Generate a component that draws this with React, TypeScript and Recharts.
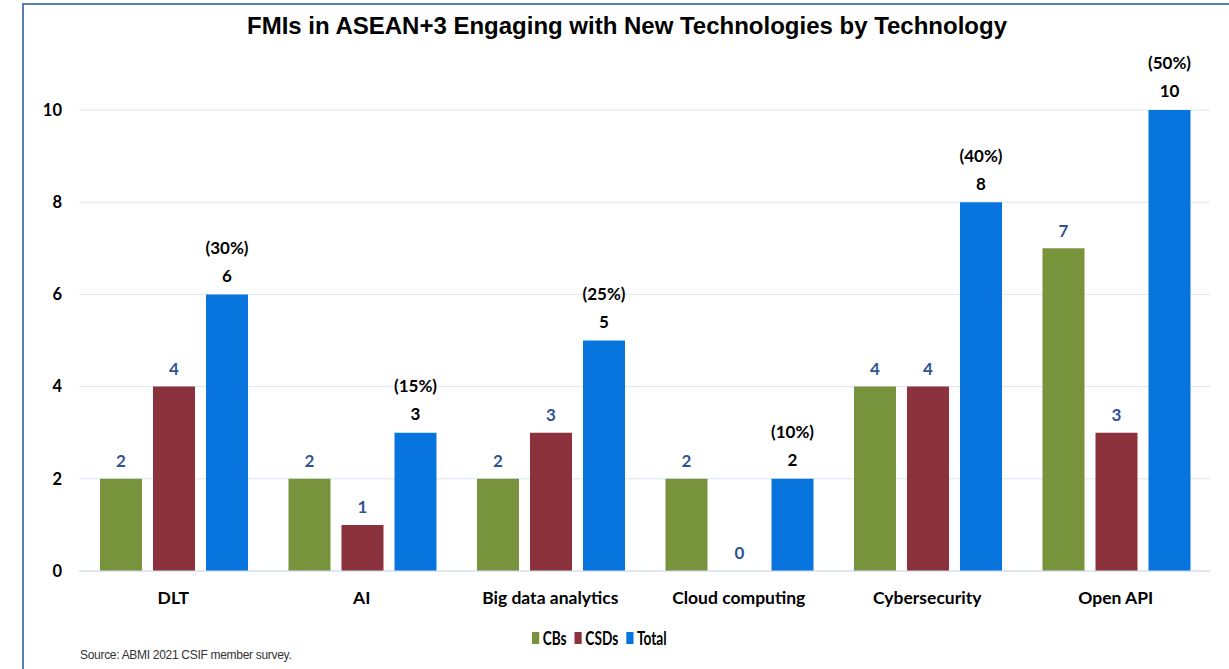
import { Bar, BarChart, CartesianGrid, LabelList, XAxis, YAxis } from "recharts";

const categories = ["DLT", "AI", "Big data analytics", "Cloud computing", "Cybersecurity", "Open API"];
const cbs = [2, 2, 2, 2, 4, 7];
const csds = [4, 1, 3, 0, 4, 3];
const totals = [6, 3, 5, 2, 8, 10];
const shares = ["(30%)", "(15%)", "(25%)", "(10%)", "(40%)", "(50%)"];
const yTicks = [0, 2, 4, 6, 8, 10];

const data = categories.map((name, i) => ({
  name,
  cbs: cbs[i],
  csds: csds[i],
  total: totals[i],
  share: shares[i],
}));

const GREEN = "#77933C";
const RED = "#8B323C";
const BLUE = "#0874DE";
const LABEL_BLUE = "#2F5496";
const FRAME = "#5B7DB1";
const FONT = "Lato, 'Open Sans', sans-serif";

const legendItems = [
  { label: "CBs", color: GREEN },
  { label: "CSDs", color: RED },
  { label: "Total", color: BLUE },
];

// keeps zero-value bars in the layout so their "0" label still shows
const zeroPoint = (v: number) => (v === 0 ? 0.01 : 0);

function ValueLabel(props: any) {
  const { x, y, width, value } = props;
  return (
    <text
      x={x + width / 2}
      y={y - 16}
      textAnchor="middle"
      dominantBaseline="middle"
      fill={LABEL_BLUE}
      fontSize={17}
      fontWeight={700}
      fontFamily={FONT}
    >
      {value}
    </text>
  );
}

function TotalLabel(props: any) {
  const { x, y, width, value, index } = props;
  const cx = x + width / 2;
  return (
    <g fontFamily={FONT} fontSize={17} fontWeight={700} fill="#000" textAnchor="middle">
      <text x={cx} y={y - 45} dominantBaseline="middle">
        {shares[index]}
      </text>
      <text x={cx} y={y - 17} dominantBaseline="middle">
        {value}
      </text>
    </g>
  );
}

export default function App() {
  return (
    <div style={{ position: "absolute", left: 0, top: 0, width: 1229, height: 669, background: "#fff", overflow: "hidden" }}>
      <div style={{ position: "absolute", left: 22, top: 3, width: 1207, height: 2, background: FRAME }} />
      <div style={{ position: "absolute", left: 22, top: 3, width: 2, height: 666, background: FRAME }} />
      <svg style={{ position: "absolute", left: 0, top: 0 }} width={1229} height={60}>
        <text
          x={627}
          y={28}
          textAnchor="middle"
          dominantBaseline="middle"
          fontFamily="'Liberation Sans', Arial, sans-serif"
          fontWeight={700}
          fontSize={24}
          textLength={760}
          lengthAdjust="spacingAndGlyphs"
          fill="#000"
        >
          FMIs in ASEAN+3 Engaging with New Technologies by Technology
        </text>
      </svg>
      <div style={{ position: "absolute", left: 0, top: 0 }}>
        <BarChart
          width={1229}
          height={669}
          data={data}
          margin={{ top: 110, right: 19, left: 29, bottom: 68 }}
          barCategoryGap={21}
          barGap={11}
        >
          <CartesianGrid stroke="#DCE6F2" vertical={false} />
          <XAxis
            dataKey="name"
            height={30}
            axisLine={{ stroke: "#D0DCEC" }}
            tickLine={false}
            tickSize={0}
            tickMargin={21}
            tick={{ fontSize: 17.5, fontWeight: 700, fill: "#000", fontFamily: FONT }}
          />
          <YAxis
            width={50}
            domain={[0, 10]}
            ticks={yTicks}
            axisLine={false}
            tickLine={false}
            tickSize={0}
            tickMargin={17}
            tick={{ fontSize: 16.5, fontWeight: 700, fill: "#000", fontFamily: FONT }}
          />
          <Bar dataKey="cbs" fill={GREEN} isAnimationActive={false}>
            <LabelList dataKey="cbs" content={ValueLabel} />
          </Bar>
          <Bar dataKey="csds" fill={RED} minPointSize={zeroPoint} isAnimationActive={false}>
            <LabelList dataKey="csds" content={ValueLabel} />
          </Bar>
          <Bar dataKey="total" fill={BLUE} isAnimationActive={false}>
            <LabelList dataKey="total" content={TotalLabel} />
          </Bar>
        </BarChart>
      </div>
      <div
        style={{
          position: "absolute",
          top: 626,
          left: 532,
          display: "flex",
          fontFamily: FONT,
          fontSize: 19,
          fontWeight: 700,
          color: "#000",
          transform: "scaleX(0.72)",
          transformOrigin: "left center",
        }}
      >
        {legendItems.map((item) => (
          <div key={item.label} style={{ display: "flex", alignItems: "center", marginRight: 11 }}>
            <span style={{ width: 10, height: 12, background: item.color, marginRight: 5, display: "inline-block" }} />
            <span>{item.label}</span>
          </div>
        ))}
      </div>
      <div
        style={{
          position: "absolute",
          left: 80,
          top: 648,
          fontFamily: "'Liberation Sans', Arial, sans-serif",
          fontSize: 12,
          color: "#333",
          letterSpacing: -0.3,
        }}
      >
        Source: ABMI 2021 CSIF member survey.
      </div>
    </div>
  );
}
